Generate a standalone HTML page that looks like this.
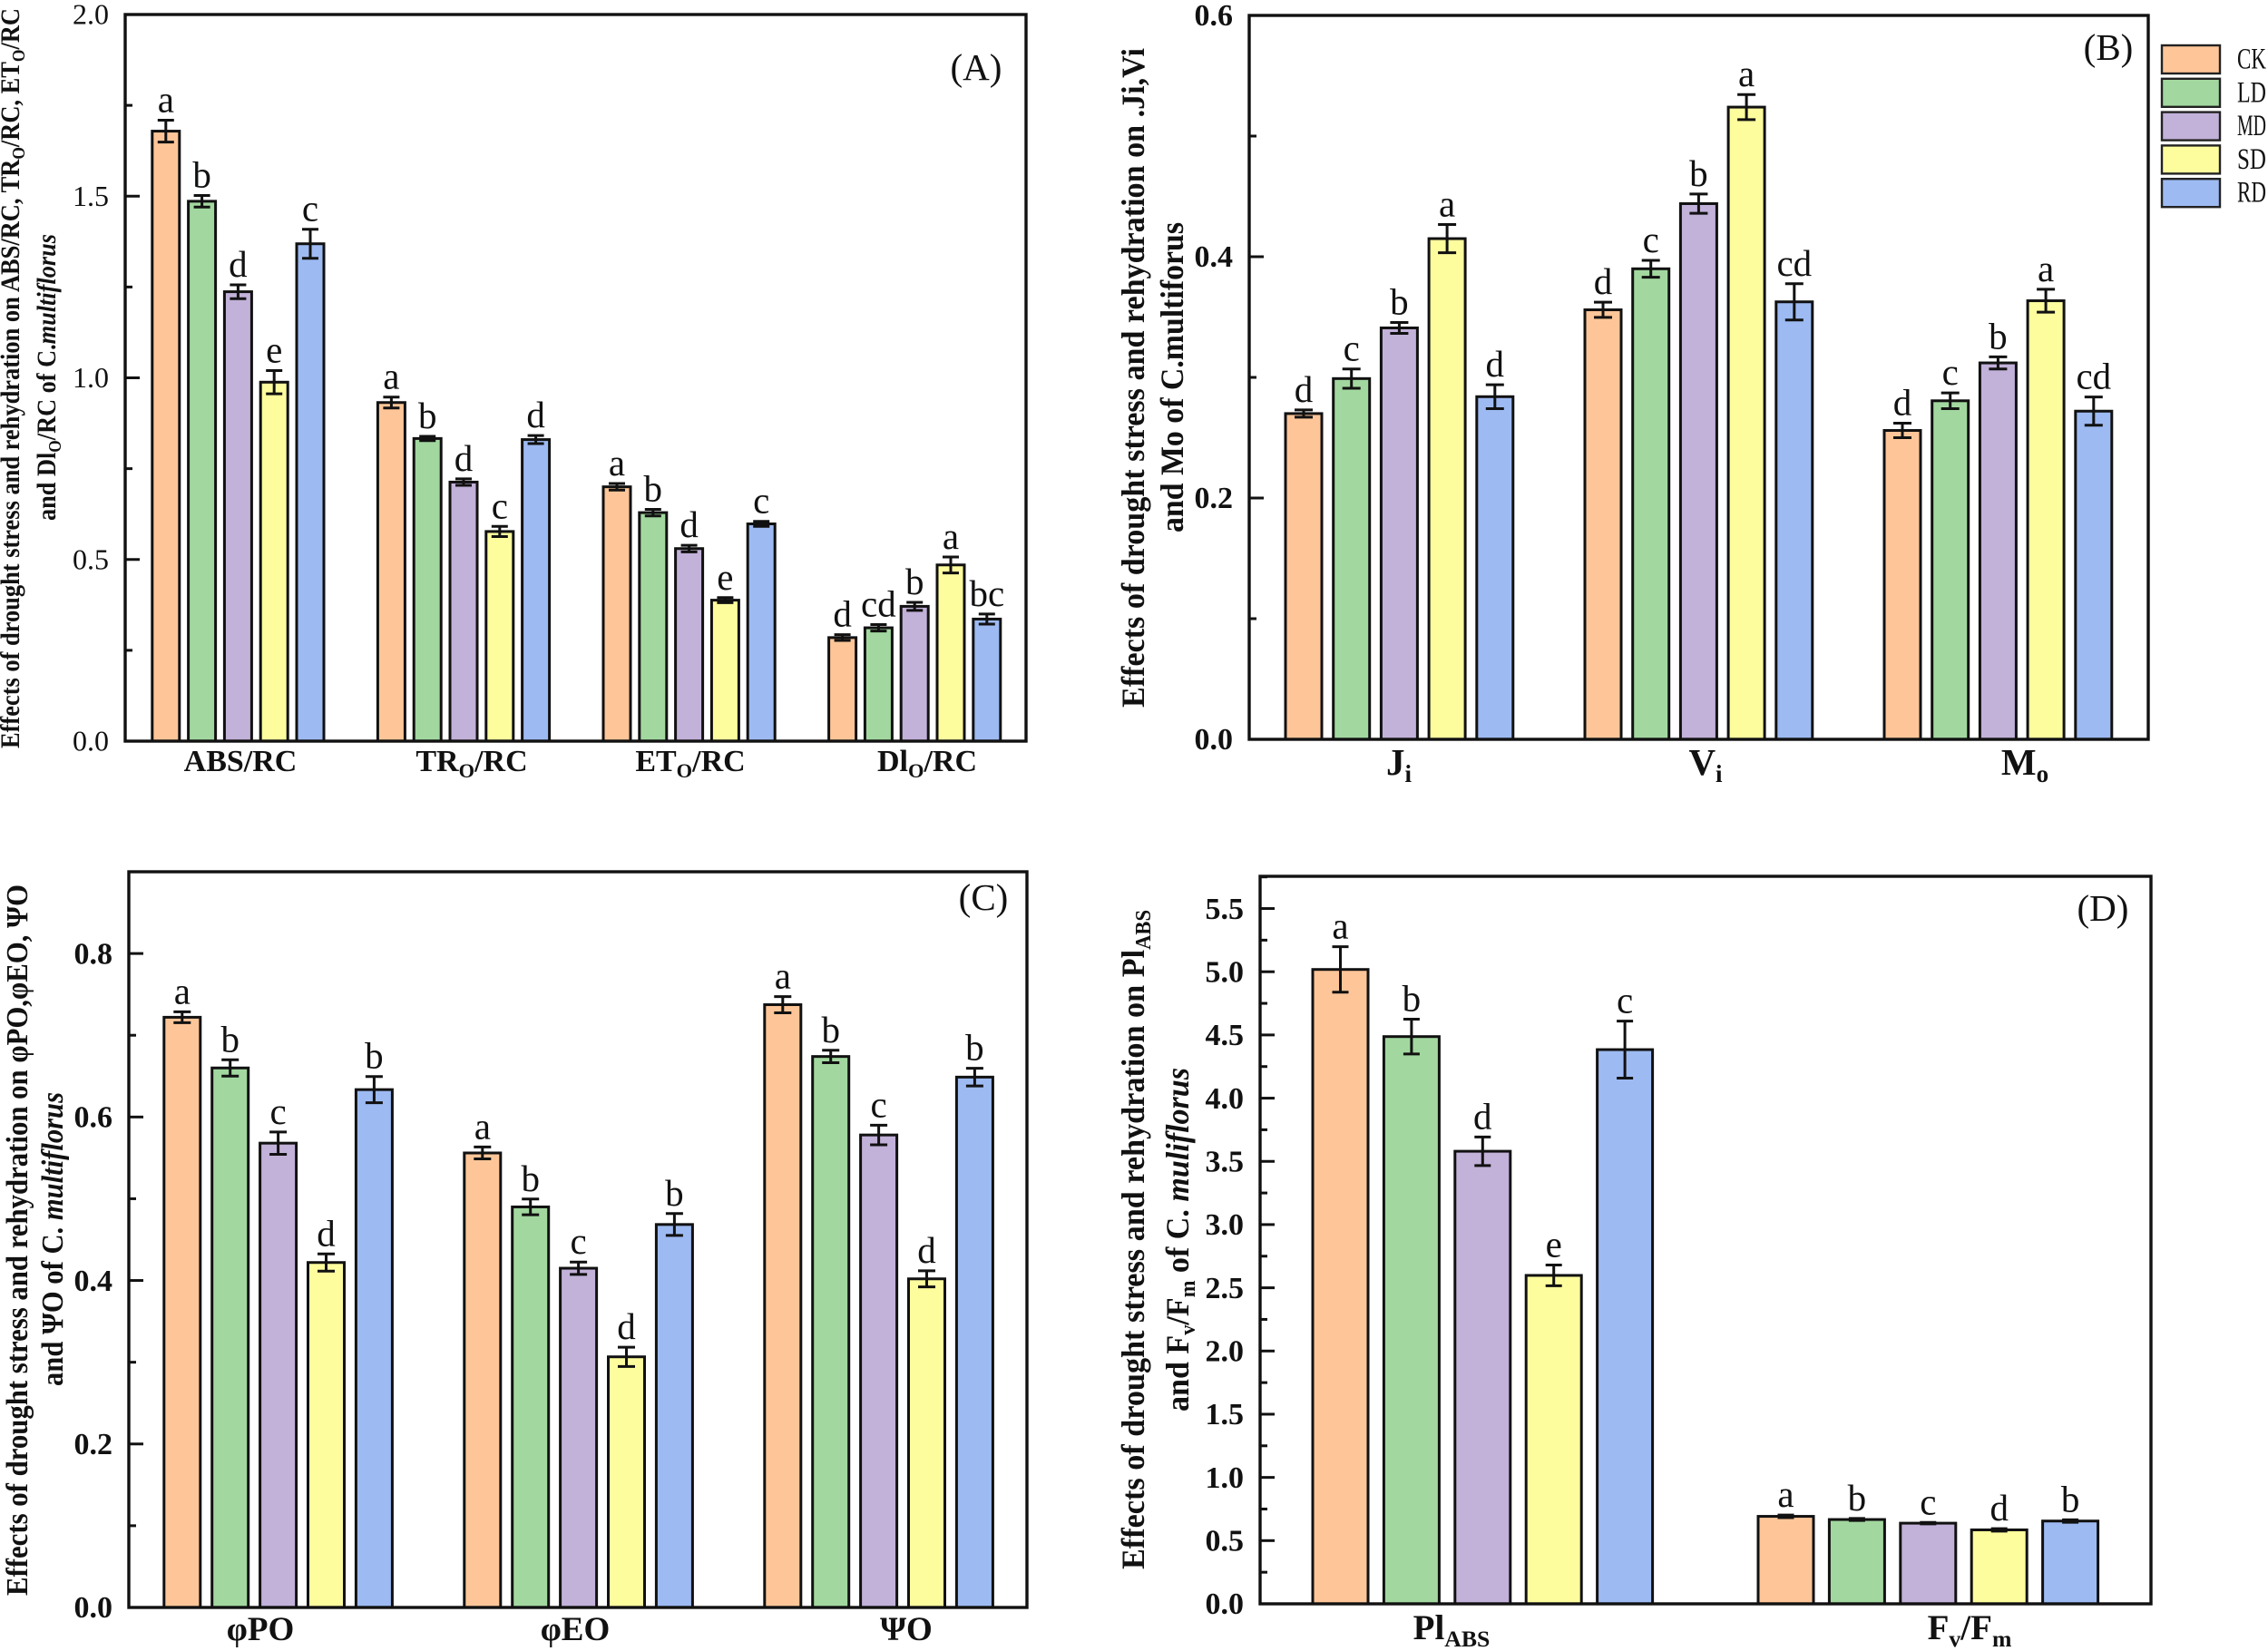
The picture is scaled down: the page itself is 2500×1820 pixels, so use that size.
<!DOCTYPE html>
<html lang="en">
<head>
<meta charset="utf-8">
<title>Effects of drought stress and rehydration on C. multiflorus</title>
<style>
html,body{margin:0;padding:0;background:#fff;width:2500px;height:1820px;overflow:hidden}
svg{display:block;font-family:"Liberation Serif","DejaVu Serif",serif}
</style>
</head>
<body>
<svg id="figure" xmlns="http://www.w3.org/2000/svg" width="2500" height="1820" viewBox="0 0 2500 1820"></svg>
<script>
const seriesNames = ["CK","LD","MD","SD","RD"];
const seriesColors = ["#FEC698","#A2D89F","#C2B1D9","#FEFD9E","#9DBAF2"];

const categoriesA = ["ABS/RC","TR_{O}/RC","ET_{O}/RC","Dl_{O}/RC"];
const valuesA = [[1.679,1.486,1.237,0.988,1.369],[0.932,0.833,0.713,0.577,0.830],[0.700,0.629,0.530,0.388,0.598],[0.285,0.312,0.371,0.485,0.336]];
const errorsA = [[0.030,0.016,0.019,0.032,0.040],[0.015,0.006,0.009,0.014,0.011],[0.009,0.009,0.009,0.007,0.007],[0.008,0.009,0.011,0.022,0.014]];
const lettersA = [["a","b","d","e","c"],["a","b","d","c","d"],["a","b","d","e","c"],["d","cd","b","a","bc"]];
const ticksA = ["0.0","0.5","1.0","1.5","2.0"];

const categoriesB = ["J_{i}","V_{i}","M_{o}"];
const valuesB = [[0.270,0.299,0.341,0.415,0.284],[0.356,0.390,0.444,0.524,0.3626],[0.256,0.2806,0.312,0.3635,0.272]];
const errorsB = [[0.003,0.008,0.0045,0.0117,0.0099],[0.0063,0.007,0.008,0.0104,0.015],[0.006,0.0065,0.005,0.0095,0.0117]];
const lettersB = [["d","c","b","a","d"],["d","c","b","a","cd"],["d","c","b","a","cd"]];
const ticksB = ["0.0","0.2","0.4","0.6"];

const categoriesC = ["φPO","φEO","ΨO"];
const valuesC = [[0.722,0.660,0.568,0.422,0.6335],[0.556,0.490,0.415,0.3066,0.4685],[0.7374,0.674,0.578,0.402,0.6488]];
const errorsC = [[0.0067,0.010,0.0137,0.0105,0.016],[0.0073,0.0096,0.0076,0.0118,0.0134],[0.0099,0.0076,0.012,0.0099,0.0108]];
const lettersC = [["a","b","c","d","b"],["a","b","c","d","b"],["a","b","c","d","b"]];
const ticksC = ["0.0","0.2","0.4","0.6","0.8"];

const categoriesD = ["Pl_{ABS}","F_{v}/F_{m}"];
const valuesD = [[5.018,4.487,3.580,2.598,4.384],[0.692,0.667,0.638,0.585,0.655]];
const errorsD = [[0.180,0.138,0.113,0.082,0.226],[0.010,0.008,0.006,0.010,0.010]];
const lettersD = [["a","b","d","e","c"],["a","b","c","d","b"]];
const ticksD = ["0.0","0.5","1.0","1.5","2.0","2.5","3.0","3.5","4.0","4.5","5.0","5.5"];

const titleA1 = "Effects of drought stress and rehydration on ABS/RC, TR_{O}/RC, ET_{O}/RC";
const titleA2 = "and Dl_{O}/RC of C.*multiflorus*";
const titleB1 = "Effects of drought stress and rehydration on .Ji,Vi";
const titleB2 = "and Mo of C.multiforus";
const titleC1 = "Effects of drought stress and rehydration on φPO,φEO, ΨO";
const titleC2 = "and ΨO of C. *multiflorus*";
const titleD1 = "Effects of drought stress and rehydration on Pl_{ABS}";
const titleD2 = "and F_{v}/F_{m} of C. *muliflorus*";

const svg = document.getElementById("figure");
const NS = "http://www.w3.org/2000/svg";

function node(tag, attrs, parent) {
  const el = document.createElementNS(NS, tag);
  for (const k in attrs) el.setAttribute(k, attrs[k]);
  parent.appendChild(el);
  return el;
}

function richText(el, str, size) {
  const re = /_\{(.+?)\}|\*(.+?)\*|([^_*]+)/g;
  let m, pendingUp = 0;
  while ((m = re.exec(str))) {
    const t = document.createElementNS(NS, "tspan");
    if (m[1] !== undefined) {
      const s = size * 0.66;
      t.setAttribute("font-size", s);
      t.setAttribute("dy", size * 0.2);
      t.textContent = m[1];
      pendingUp = size * 0.2;
    } else {
      if (pendingUp) { t.setAttribute("dy", -pendingUp); pendingUp = 0; }
      if (m[2] !== undefined) { t.setAttribute("font-style", "italic"); t.textContent = m[2]; }
      else t.textContent = m[3];
    }
    el.appendChild(t);
  }
}

function drawPanel(p) {
  const g = node("g", {}, svg);
  
  

  const yScale = v => p.bottom - (p.bottom - p.top) * v / p.yMax;
  const barX = (c, s) => p.groupStart + c * p.groupStep + s * p.barStep;

  // bars, error bars and significance letters
  p.values.forEach((row, c) => {
    row.forEach((v, s) => {
      const x = barX(c, s);
      const y = yScale(v);
      const bar = node("rect", {x: x + p.sw / 2, y: y, width: p.barW - p.sw, height: p.bottom - y, fill: seriesColors[s], stroke: "#111", "stroke-width": p.sw}, g);
      
      

      const cx = x + p.barW / 2;
      const yHi = yScale(v + p.errors[c][s]);
      const yLo = yScale(v - p.errors[c][s]);
      const err = node("path", {d: "M" + cx + " " + yHi + "V" + yLo + "M" + (cx - p.cap) + " " + yHi + "H" + (cx + p.cap) + "M" + (cx - p.cap) + " " + yLo + "H" + (cx + p.cap), fill: "none", stroke: "#111", "stroke-width": 3}, g);
      
      

      const lab = node("text", {x: cx, y: yHi - 9, "text-anchor": "middle", "font-size": 41, fill: "#111"}, g);
      lab.textContent = p.letters[c][s];
      
      
    });
  });

  // frame
  const frame = node("rect", {x: p.left, y: p.top, width: p.right - p.left, height: p.bottom - p.top, fill: "none", stroke: "#111", "stroke-width": 3.4}, g);
  
  

  // y ticks
  p.ticks.forEach((t, i) => {
    const v = parseFloat(t);
    const y = yScale(v);
    const tick = node("line", {x1: p.left, x2: p.left + 16, y1: y, y2: y, stroke: "#111", "stroke-width": 3}, g);
    
    
    const label = node("text", {x: p.left - 18, y: y + p.tickSize * 0.33, "text-anchor": "end", "font-size": p.tickSize, "font-weight": p.tickWeight, fill: "#111"}, g);
    label.textContent = t;
    
    
    const next = v + p.minorStep;
    if (next < p.yMax) {
      const minor = node("line", {x1: p.left, x2: p.left + 8, y1: yScale(next), y2: yScale(next), stroke: "#111", "stroke-width": 3}, g);
      
      
    }
  });

  // x labels
  p.categories.forEach((c, i) => {
    const t = node("text", {x: p.catX[i], y: p.catY, "text-anchor": "middle", "font-size": p.catSize, "font-weight": "bold", fill: "#111"}, g);
    richText(t, c, p.catSize);
    
    
  });

  // y title
  p.titles.forEach((tl, i) => {
    const t = node("text", {transform: "translate(" + tl.x + "," + tl.y + ") rotate(-90)", "font-size": p.titleSize, "font-weight": "bold", fill: "#111", textLength: tl.len, lengthAdjust: "spacingAndGlyphs"}, g);
    richText(t, tl.text, p.titleSize);
    
    
  });

  // panel letter
  const tag = node("text", {x: p.tagX, y: p.tagY, "text-anchor": "middle", "font-size": 41, fill: "#111"}, g);
  tag.textContent = "(" + p.id + ")";
  
  
}

drawPanel({id:"A", left:138, right:1131, top:16, bottom:817, yMax:2.0, minorStep:0.25,
  groupStart:166.3, groupStep:248.6, barStep:39.8, barW:33, sw:3, cap:9,
  values:valuesA, errors:errorsA, letters:lettersA, ticks:ticksA, categories:categoriesA,
  tickSize:32, tickWeight:"normal", catX:[265,520,761,1022], catY:850, catSize:34, titleSize:30,
  titles:[{text:titleA1,x:21,y:825,len:816},{text:titleA2,x:61,y:574,len:316}], tagX:1076, tagY:88});

drawPanel({id:"B", left:1377, right:2368, top:17, bottom:815, yMax:0.6, minorStep:0.1,
  groupStart:1415.5, groupStep:330, barStep:52.7, barW:43, sw:3, cap:10,
  values:valuesB, errors:errorsB, letters:lettersB, ticks:ticksB, categories:categoriesB,
  tickSize:34, tickWeight:"bold", catX:[1542,1880,2232], catY:854, catSize:41, titleSize:36,
  titles:[{text:titleB1,x:1261,y:780,len:727},{text:titleB2,x:1304,y:587,len:342}], tagX:2324, tagY:66});

drawPanel({id:"C", left:142, right:1132, top:961, bottom:1772, yMax:0.9, minorStep:0.1,
  groupStart:179.3, groupStep:331, barStep:52.9, barW:43, sw:3, cap:9.5,
  values:valuesC, errors:errorsC, letters:lettersC, ticks:ticksC, categories:categoriesC,
  tickSize:34, tickWeight:"bold", catX:[287,634,999], catY:1808, catSize:37, titleSize:34,
  titles:[{text:titleC1,x:30,y:1759,len:784},{text:titleC2,x:69,y:1528,len:324}], tagX:1084, tagY:1003});

drawPanel({id:"D", left:1389, right:2371, top:966, bottom:1768, yMax:5.755, minorStep:0.25,
  groupStart:1445.5, groupStep:491, barStep:78.4, barW:64, sw:3, cap:9,
  values:valuesD, errors:errorsD, letters:lettersD, ticks:ticksD, categories:categoriesD,
  tickSize:34, tickWeight:"bold", catX:[1600,2171], catY:1807, catSize:39, titleSize:36,
  titles:[{text:titleD1,x:1261,y:1730,len:727},{text:titleD2,x:1310,y:1556,len:379}], tagX:2318, tagY:1015});

// legend
const legend = node("g", {}, svg);


seriesNames.forEach((name, i) => {
  const y = 50 + i * 36.8;
  const sw = node("rect", {x: 2383, y: y, width: 64, height: 31, fill: seriesColors[i], stroke: "#222", "stroke-width": 2.4}, legend);
  
  
  const t = node("text", {x: 2466, y: y + 25.5, "font-size": 33, fill: "#111", textLength: 32, lengthAdjust: "spacingAndGlyphs"}, legend);
  t.textContent = name;
  
  
});
</script>
</body>
</html>
